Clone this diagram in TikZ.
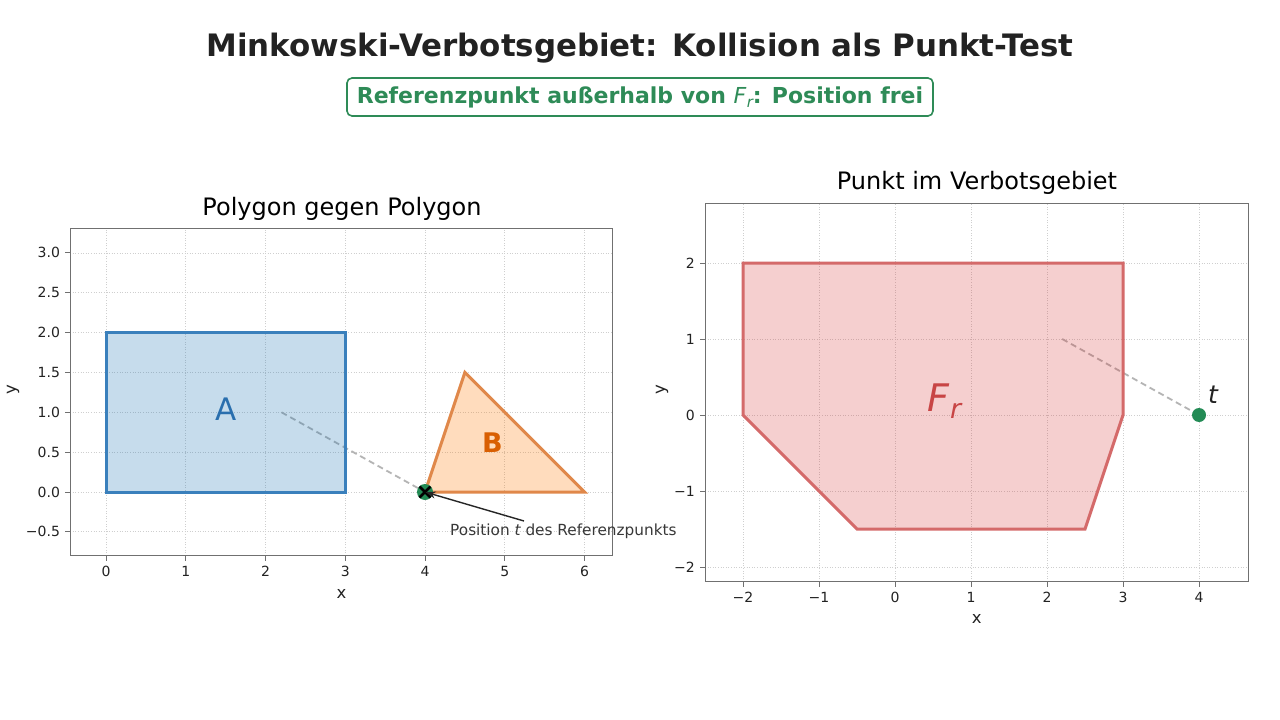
\documentclass[tikz,border=0pt]{standalone}
\usepackage{fontspec}
\setmainfont{DejaVu Sans}
\usetikzlibrary{arrows.meta}
\newcommand{\fsz}[1]{\fontsize{#1}{#1}\selectfont}
\definecolor{titlec}{HTML}{222222}
\definecolor{subgreen}{HTML}{2E8B57}
\definecolor{ptgreen}{HTML}{238B55}
\definecolor{tabblue}{HTML}{1F77B4}
\definecolor{bedge}{HTML}{3A80BC}
\definecolor{blabel}{HTML}{2A6FAE}
\definecolor{taborange}{HTML}{FF7F0E}
\definecolor{oedge}{HTML}{E0884A}
\definecolor{olabel}{HTML}{D95F02}
\definecolor{tabred}{HTML}{D62728}
\definecolor{redge}{HTML}{D46A6A}
\definecolor{rlabel}{HTML}{C84545}
\definecolor{spinec}{HTML}{707070}
\definecolor{gridc}{HTML}{CFCFCF}
\definecolor{dashc}{HTML}{B4B4B4}
\definecolor{tickc}{HTML}{222222}
\tikzset{
  gridline/.style={draw=gridc, line width=0.8pt, dash pattern=on 1pt off 1.6pt},
  spine/.style={draw=spinec, line width=1pt},
  ticklab/.style={text=tickc, font=\fsz{14}, inner sep=0pt},
  axlab/.style={text=tickc, font=\fsz{16.5}, inner sep=0pt},
  axtitle/.style={text=black, font=\fsz{24}, inner sep=0pt, anchor=base},
  guide/.style={draw=dashc, line width=1.8pt, dash pattern=on 6pt off 4pt},
  polyA/.style={fill=tabblue, fill opacity=0.25, draw=bedge, draw opacity=1, line width=3pt, line join=miter},
  polyB/.style={fill=taborange, fill opacity=0.27, draw=oedge, draw opacity=1, line width=3pt, line join=miter},
  polyF/.style={fill=tabred, fill opacity=0.22, draw=redge, draw opacity=1, line width=3pt, line join=miter},
}
\begin{document}
\begin{tikzpicture}[x=1pt,y=-1pt]
\useasboundingbox (0,0) rectangle (1280,720);
\fill[white] (0,0) rectangle (1280,720);

% titles
\node[font=\bfseries\fsz{30.9}, text=titlec, anchor=base, inner sep=0pt] (title) at (640,56) {Minkowski-Verbotsgebiet: Kollision als Punkt-Test};
\node[draw=subgreen, line width=1.6pt, rounded corners=5pt, fill=white, text=subgreen,
      font=\bfseries\fsz{22}, minimum width=586pt, minimum height=38pt, inner sep=0pt] (sub) at (640,97)
  {Referenzpunkt außerhalb von {\mdseries\itshape F\kern0.5pt\raisebox{-0.2em}{\fsz{15}r}}: Position frei};

% ================= left axes =================
\begin{scope}[shift={(106,492)}, x={(79.75pt,0pt)}, y={(0pt,79.7pt)}]
  \foreach \gx in {0,...,6} \draw[gridline] (\gx,-0.8) -- (\gx,3.3);
  \foreach \gy in {-0.5,0,0.5,1,1.5,2,2.5,3} \draw[gridline] (-0.45,\gy) -- (6.35,\gy);
  % guide line (under polygons)
  \coordinate (gA) at (2.2,1.0);
  \coordinate (tL) at (4,0);
  \draw[guide] (gA) -- (tL);
  % polygons
  \draw[polyA] (0,0) -- (3,0) -- (3,2) -- (0,2) -- cycle;
  \draw[polyB] (4,0) -- (6,0) -- (4.5,1.5) -- cycle;
  % frame
  \draw[spine] (-0.45,-0.8) rectangle (6.35,3.3);
  \foreach \gx in {0,...,6} {
    \draw[spine] (\gx,-0.8) -- ++(0pt,-5pt);
    \node[ticklab, anchor=north] (lxt\gx) at ([yshift=-10pt]\gx,-0.8) {\gx};
  }
  \foreach \gy/\lab [count=\i] in {-0.5/−0.5,0/0.0,0.5/0.5,1/1.0,1.5/1.5,2/2.0,2.5/2.5,3/3.0} {
    \draw[spine] (-0.45,\gy) -- ++(-5pt,0pt);
    \node[ticklab, anchor=east] (lyt\i) at ([xshift=-10pt]-0.45,\gy) {\lab};
  }
  % marker at t
  \fill[ptgreen] (tL) circle[radius=8pt];
  \node[inner sep=0pt, minimum size=1pt] (mark) at (tL) {};
  \draw[black, line width=2.6pt] ([shift={(-5.5pt,-5.5pt)}]tL) -- ([shift={(5.5pt,5.5pt)}]tL);
  \draw[black, line width=2.6pt] ([shift={(-5.5pt,5.5pt)}]tL) -- ([shift={(5.5pt,-5.5pt)}]tL);
\end{scope}
\node[font=\fsz{31}, text=blabel, anchor=base, inner sep=0pt] (labA) at (226.3,420) {A};
\node[font=\bfseries\fsz{27}, text=olabel, anchor=base, inner sep=0pt] (labB) at (492.5,452.7) {B};
\node[axtitle] (ttlL) at (342,215) {Polygon gegen Polygon};
\node[axlab, anchor=base] (xlabL) at (341.5,598) {x};
\node[axlab, rotate=90] (ylabL) at (13,390) {y};
% annotation
\node[font=\fsz{15.3}, text=tickc!90, anchor=base west, inner sep=0pt] (ann) at (450,535.7) {Position {\itshape t} des Referenzpunkts};
\coordinate (annstart) at (524,521);
\draw[black!85, line width=1.4pt, -{Stealth[length=10pt,width=7pt]}] (annstart) -- (mark);

% ================= right axes =================
\begin{scope}[shift={(895,415)}, x={(76pt,0pt)}, y={(0pt,76pt)}]
  \foreach \gx in {-2,...,4} \draw[gridline] (\gx,-2.197) -- (\gx,2.789);
  \foreach \gy in {-2,...,2} \draw[gridline] (-2.5,\gy) -- (4.645,\gy);
  \coordinate (gF) at (2.2,1.0);
  \coordinate (tR) at (4,0);
  \draw[guide] (gF) -- (tR);
  \draw[polyF] (-2,2) -- (3,2) -- (3,0) -- (2.5,-1.5) -- (-0.5,-1.5) -- (-2,0) -- cycle;
  \draw[spine] (-2.5,-2.197) rectangle (4.645,2.789);
  \foreach \gx/\lab [count=\i] in {-2/−2,-1/−1,0/0,1/1,2/2,3/3,4/4} {
    \draw[spine] (\gx,-2.197) -- ++(0pt,-5pt);
    \node[ticklab, anchor=north] (rxt\i) at ([yshift=-10pt]\gx,-2.197) {\lab};
  }
  \foreach \gy/\lab [count=\i] in {-2/−2,-1/−1,0/0,1/1,2/2} {
    \draw[spine] (-2.5,\gy) -- ++(-5pt,0pt);
    \node[ticklab, anchor=east] (ryt\i) at ([xshift=-10pt]-2.5,\gy) {\lab};
  }
  \node[circle, fill=ptgreen, minimum size=14pt, inner sep=0pt] (ptt) at (tR) {};
\end{scope}
\node[font=\fsz{38}, text=rlabel, anchor=base west, inner sep=0pt] (labF) at (927,411.7) {\itshape F\kern1pt\raisebox{-0.18em}{\fsz{27}r}};
\node[font=\itshape\fsz{25}, text=titlec, anchor=base west, inner sep=0pt] (labt) at (1208,403.3) {t};
\node[axtitle] (ttlR) at (977,189.3) {Punkt im Verbotsgebiet};
\node[axlab, anchor=base] (xlabR) at (976.7,623.5) {x};
\node[axlab, rotate=90] (ylabR) at (662,390) {y};
\end{tikzpicture}
\end{document}
